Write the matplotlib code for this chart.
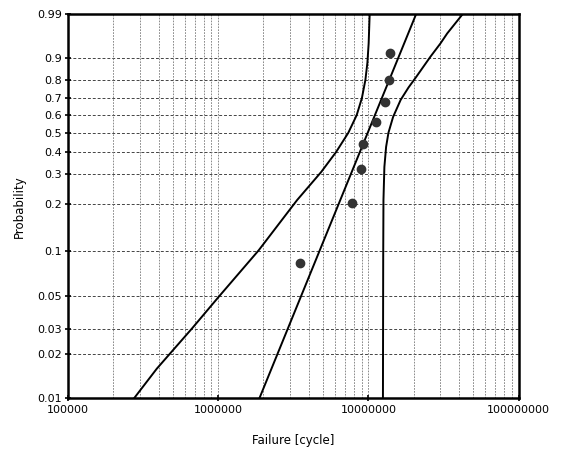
import numpy as np
import matplotlib
matplotlib.use("Agg")
import matplotlib.pyplot as plt
from matplotlib.ticker import FixedLocator, FixedFormatter, NullFormatter

# median-rank points (failure cycles, probability)
fail_cycles = [3.48e6, 7.82e6, 8.98e6, 9.16e6, 1.12e7, 1.29e7, 1.38e7, 1.40e7]
fail_prob = [0.083, 0.202, 0.321, 0.440, 0.560, 0.679, 0.798, 0.917]

# fitted Weibull line (end points)
fit_cycles = [1.88e6, 2.08e7]
fit_prob = [0.01, 0.99]

# confidence bounds
lower_cycles = [2.75e5, 3.90e5, 6.68e5, 1.005e6, 1.86e6, 3.35e6, 4.85e6, 6.10e6,
                7.35e6, 8.35e6, 9.05e6, 9.55e6, 9.85e6, 1.004e7, 1.02e7]
lower_prob = [0.01, 0.016, 0.0301, 0.0493, 0.101, 0.211, 0.31, 0.40,
              0.50, 0.60, 0.70, 0.80, 0.88, 0.944, 0.99]
upper_cycles = [1.25e7, 1.255e7, 1.26e7, 1.278e7, 1.312e7, 1.36e7, 1.46e7,
                1.64e7, 1.85e7, 2.08e7, 2.59e7, 3.02e7, 3.35e7, 4.25e7]
upper_prob = [0.01, 0.087, 0.211, 0.331, 0.425, 0.50, 0.59,
              0.69, 0.76, 0.815, 0.903, 0.944, 0.966, 0.99]

prob_ticks = [0.01, 0.02, 0.03, 0.05, 0.1, 0.2, 0.3, 0.4, 0.5, 0.6, 0.7, 0.8, 0.9, 0.99]
prob_labels = ["0.01", "0.02", "0.03", "0.05", "0.1", "0.2", "0.3", "0.4", "0.5",
               "0.6", "0.7", "0.8", "0.9", "0.99"]
cycle_ticks = [1e5, 1e6, 1e7, 1e8]
cycle_labels = ["100000", "1000000", "10000000", "100000000"]


def weib(p):
    p = np.clip(np.asarray(p, dtype=float), 1e-9, 1 - 1e-12)
    return np.log(-np.log(1 - p))


def weib_inv(w):
    return 1 - np.exp(-np.exp(np.asarray(w, dtype=float)))


fig = plt.figure(figsize=(5.63, 4.68), dpi=100)
ax = fig.add_axes([0.121, 0.149, 0.800, 0.821])

ax.set_xscale("log")
ax.set_yscale("function", functions=(weib, weib_inv))
ax.set_xlim(1e5, 1e8)
ax.set_ylim(0.01, 0.99)

# grid: horizontal at probability ticks, vertical at decades and 2..9
for p in prob_ticks[1:-1]:
    ax.axhline(p, color="#444444", lw=0.7, ls=(0, (3, 2)), zorder=1)
for dec in [1e5, 1e6, 1e7]:
    for m in range(1, 10):
        v = dec * m
        if v <= 1e5 or v >= 1e8:
            continue
        ax.axvline(v, color="#777777", lw=0.6, ls=(0, (2, 1.5)), zorder=1)

ax.plot(lower_cycles, lower_prob, color="black", lw=1.4, zorder=3)
ax.plot(upper_cycles, upper_prob, color="black", lw=1.4, zorder=3)
ax.plot(fit_cycles, fit_prob, color="black", lw=1.4, zorder=3)
ax.plot(fail_cycles, fail_prob, "o", color="#333333", ms=6, zorder=4)

ax.yaxis.set_major_locator(FixedLocator(prob_ticks))
ax.yaxis.set_major_formatter(FixedFormatter(prob_labels))
ax.yaxis.set_minor_locator(FixedLocator([]))
ax.xaxis.set_major_locator(FixedLocator(cycle_ticks))
ax.xaxis.set_major_formatter(FixedFormatter(cycle_labels))
ax.xaxis.set_minor_locator(FixedLocator([]))
ax.xaxis.set_minor_formatter(NullFormatter())

ax.tick_params(axis="both", direction="inout", length=5, width=1.2,
               labelsize=8, pad=2, colors="black")

for s in ax.spines.values():
    s.set_linewidth(1.8)
    s.set_color("black")

ax.set_xlabel("Failure [cycle]", fontsize=8.5, labelpad=14)
ax.set_ylabel("Probability", fontsize=8.5, labelpad=8)

fig.savefig("out.png", dpi=100)
